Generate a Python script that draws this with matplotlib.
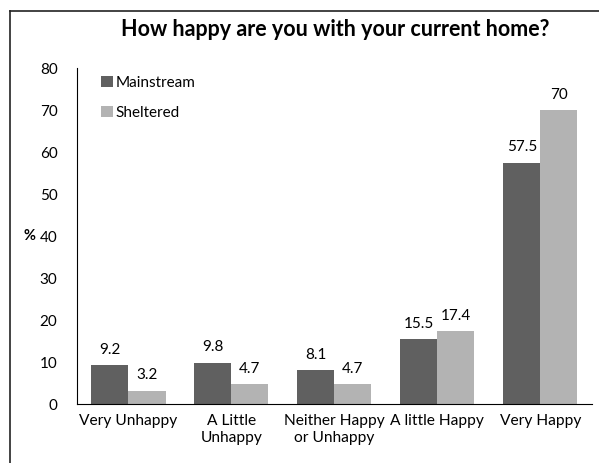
import matplotlib
matplotlib.use("Agg")
import matplotlib.pyplot as plt
import numpy as np
from matplotlib.lines import Line2D

categories = ["Very Unhappy", "A Little\nUnhappy", "Neither Happy\nor Unhappy", "A little Happy", "Very Happy"]
mainstream = [9.2, 9.8, 8.1, 15.5, 57.5]
sheltered = [3.2, 4.7, 4.7, 17.4, 70]
series_names = ["Mainstream", "Sheltered"]

plt.rcParams['font.family'] = ['Lato', 'DejaVu Sans']

fig = plt.figure(figsize=(5.99, 4.63), dpi=100)
ax = fig.add_axes([0.1285, 0.1274, 0.8595, 0.7256])

x = np.arange(len(categories))
w = 0.36
b1 = ax.bar(x - w / 2, mainstream, w, color="#606060", label=series_names[0])
b2 = ax.bar(x + w / 2, sheltered, w, color="#b3b3b3", label=series_names[1])

for bars, vals in ((b1, mainstream), (b2, sheltered)):
    for r, v in zip(bars, vals):
        ax.text(r.get_x() + r.get_width() / 2, v + 2.0, f"{v:g}",
                ha="center", va="bottom", fontsize=11)

ax.set_xlim(-0.5, 4.5)
ax.set_ylim(0, 80)
ax.set_yticks(range(0, 81, 10))
ax.set_xticks(x)
ax.set_xticklabels(categories, fontsize=11.2, linespacing=1.3)
ax.tick_params(axis="y", length=0, pad=14, labelsize=11)
ax.tick_params(axis="x", length=0, pad=7)
for s in ("top", "right"):
    ax.spines[s].set_visible(False)

ax.text(-0.092, 0.5, "%", transform=ax.transAxes, fontsize=10.5, fontweight="bold",
        ha="center", va="center")

ax.legend(loc="upper left", bbox_to_anchor=(0.035, 0.995), frameon=False,
          fontsize=11, handlelength=0.75, handleheight=0.75, handletextpad=0.2,
          labelspacing=1.05, borderaxespad=0)

fig.suptitle("How happy are you with your current home?", x=0.56, y=0.958,
             fontsize=15.5, fontweight="bold")

# chart area frame (only top and left edges are inside the picture)
fx, fy = 9.5 / 599, 1 - 10.5 / 463
fig.add_artist(Line2D([fx, 1.0], [fy, fy], transform=fig.transFigure, color="#222222", lw=1.2))
fig.add_artist(Line2D([fx, fx], [0.0, fy], transform=fig.transFigure, color="#222222", lw=1.2))

fig.savefig("out.png", dpi=100)
